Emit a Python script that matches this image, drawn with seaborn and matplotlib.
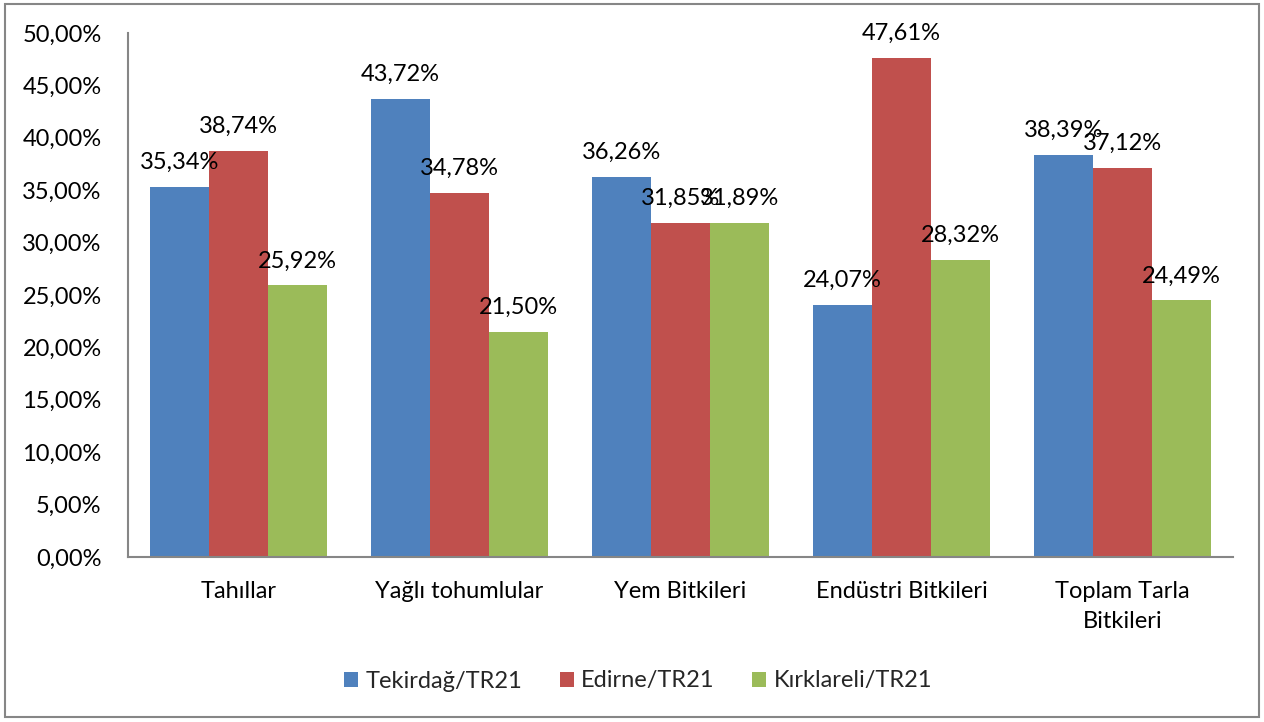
import matplotlib.pyplot as plt
import pandas as pd
import seaborn as sns
from matplotlib.patches import Rectangle

# 数据
categories = ["Tahıllar", "Yağlı tohumlular", "Yem Bitkileri", "Endüstri Bitkileri", "Toplam Tarla\nBitkileri"]
series_names = ["Tekirdağ/TR21", "Edirne/TR21", "Kırklareli/TR21"]
tekirdag = [35.34, 43.72, 36.26, 24.07, 38.39]
edirne = [38.74, 34.78, 31.85, 47.61, 37.12]
kirklareli = [25.92, 21.50, 31.89, 28.32, 24.49]
colors = ["#4F81BD", "#C0504D", "#9BBB59"]

rows = []
for name, vals in zip(series_names, [tekirdag, edirne, kirklareli]):
    for cat, v in zip(categories, vals):
        rows.append({"Kategori": cat, "Bölge": name, "Oran": v})
df = pd.DataFrame(rows)

sns.set_style("white")
plt.rcParams['font.family'] = ['Lato', 'DejaVu Sans']
fs = 17

fig = plt.figure(figsize=(12.64, 7.22), dpi=100)
ax = fig.add_axes([128 / 1264, 1 - 557 / 722, (1233 - 128) / 1264, (557 - 33) / 722])

sns.barplot(data=df, x="Kategori", y="Oran", hue="Bölge", palette=colors,
            order=categories, hue_order=series_names, width=0.8,
            saturation=1, linewidth=0, ax=ax)

# 数值标签（逗号小数）
for cont in ax.containers:
    labels = [f"{v:.2f}%".replace(".", ",") for v in cont.datavalues]
    ax.bar_label(cont, labels=labels, padding=10, fontsize=fs, color="#000000")

ax.set_ylim(0, 50)
ax.set_xlim(-0.5, 4.5)
ax.set_yticks(range(0, 51, 5))
ax.set_yticklabels([f"{t:.2f}%".replace(".", ",") for t in range(0, 51, 5)])
ax.tick_params(axis="both", length=0, labelsize=fs, colors="#000000")
ax.tick_params(axis="y", pad=19)
ax.tick_params(axis="x", pad=17)
for lbl in ax.get_xticklabels():
    lbl.set_linespacing(1.55)
ax.set_xlabel("")
ax.set_ylabel("")
for s in ["top", "right"]:
    ax.spines[s].set_visible(False)
for s in ["left", "bottom"]:
    ax.spines[s].set_color("#868686")
    ax.spines[s].set_linewidth(1.5)

handles, labels = ax.get_legend_handles_labels()
ax.get_legend().remove()
fig.legend(handles, labels, loc="center", bbox_to_anchor=(638 / 1264, 1 - 681 / 722),
           ncol=3, frameon=False, fontsize=fs, handlelength=0.6, handleheight=0.6,
           columnspacing=1.6, handletextpad=0.3)

# 外边框
fig.patches.append(Rectangle((5 / 1264, 5 / 722), 1 - 10 / 1264, 1 - 9 / 722,
                             transform=fig.transFigure, fill=False,
                             edgecolor="#868686", linewidth=1.5))

plt.savefig("out.png", dpi=100)
plt.close()
